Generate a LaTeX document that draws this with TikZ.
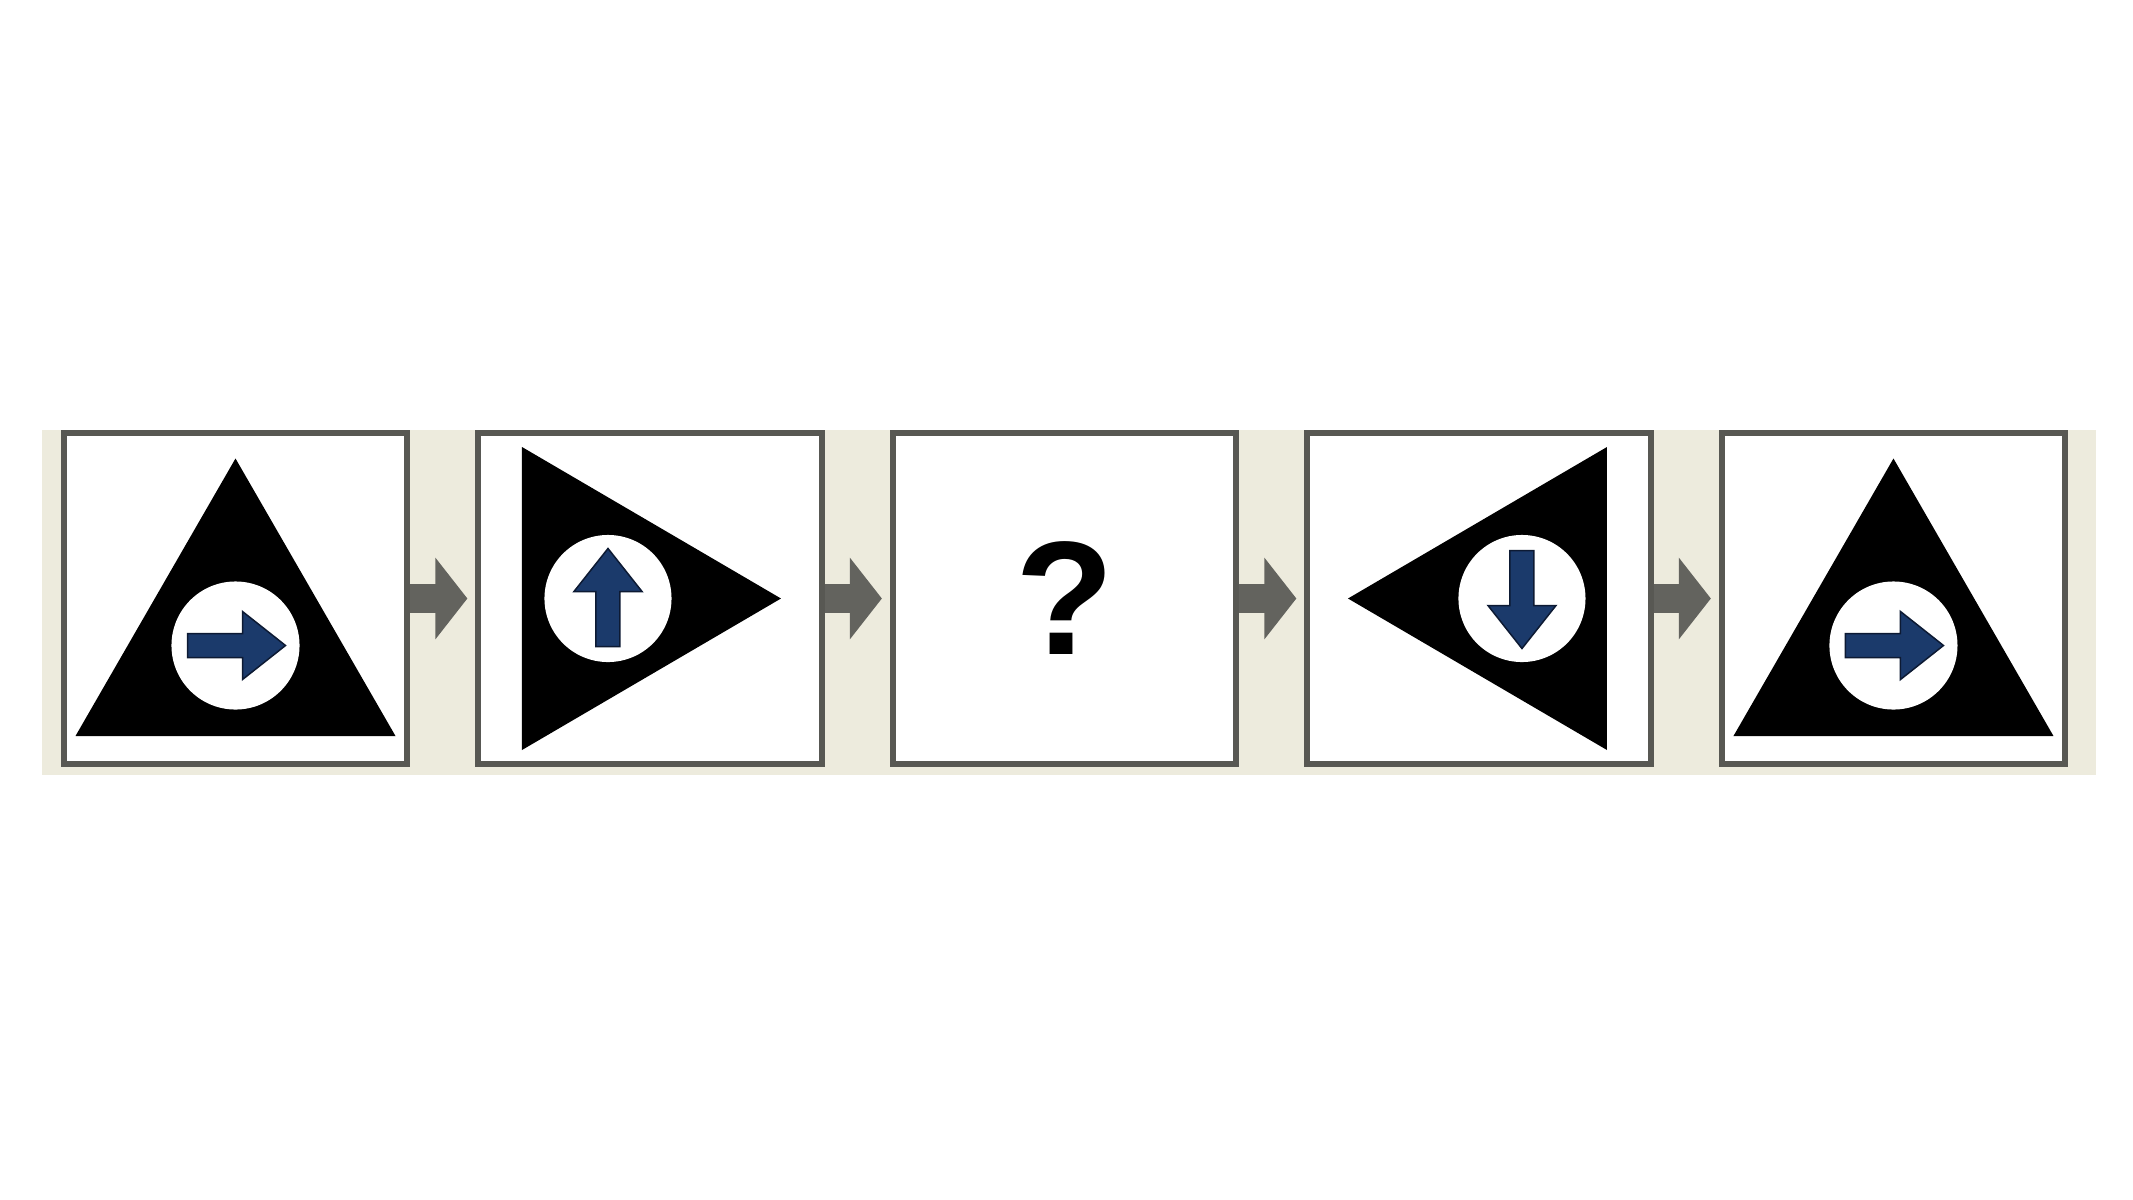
\documentclass[tikz,border=0pt]{standalone}
\usepackage{fontspec}
\newfontfamily\qfont{Liberation Sans}
\usetikzlibrary{positioning,arrows.meta}
\definecolor{strip}{HTML}{EDEBDD}
\definecolor{frame}{HTML}{585853}
\definecolor{linkgrey}{HTML}{63635E}
\definecolor{arrowblue}{HTML}{1B3A6B}
\definecolor{arrowline}{HTML}{0D1A33}

\begin{document}
\begin{tikzpicture}[x=0.01cm, y=-0.01cm, node distance=4.1425cm,
    panel/.style={draw=frame, fill=white, line width=0.06cm, minimum width=3.43cm, minimum height=3.31cm, inner sep=0pt},
    link/.style={linkgrey, line width=0.28cm, -{Triangle[length=0.32cm, width=0.8cm]}, shorten >=0.08cm},
    sign/.style={fill=black},
    hole/.style={fill=white},
    pics/dirarrow/.style={code={
      \filldraw[fill=arrowblue, draw=arrowline, line width=0.015cm]
        (-48,-12) -- (7,-12) -- (7,-34) -- (50,0) -- (7,34) -- (7,12) -- (-48,12) -- cycle;}}]

  \useasboundingbox (0,0) rectangle (2133,1200);
  \fill[strip] (42,430) rectangle (2096,775);

  \node[panel] (p1) at (235.5,598.5) {};
  \node[panel] (p2) [right of = p1] {};
  \node[panel, font=\qfont\bfseries\fontsize{46}{50}\selectfont] (p3) [right of = p2] {?};
  \node[panel] (p4) [right of = p3] {};
  \node[panel] (p5) [right of = p4] {};

  \path[link] (p1) edge (p2);
  \path[link] (p2) edge (p3);
  \path[link] (p3) edge (p4);
  \path[link] (p4) edge (p5);

  % pointing up
  \begin{scope}[shift={(p1.center)}]
    \fill[sign] (0,-140) -- (160,137.5) -- (-160,137.5) -- cycle;
    \fill[hole] (0,47) circle (0.64cm);
    \pic at (0,47) {dirarrow};
  \end{scope}

  % pointing right
  \begin{scope}[shift={(p2.center)}]
    \fill[sign] (-128,-151.5) -- (131,0) -- (-128,151.5) -- cycle;
    \fill[hole] (-42,0) circle (0.635cm);
    \pic[rotate=90] at (-42,0) {dirarrow};
  \end{scope}

  % pointing left
  \begin{scope}[shift={(p4.center)}]
    \fill[sign] (128,-151.5) -- (-131,0) -- (128,151.5) -- cycle;
    \fill[hole] (43,0) circle (0.635cm);
    \pic[rotate=-90] at (43,0) {dirarrow};
  \end{scope}

  \begin{scope}[shift={(p5.center)}]
    \fill[sign] (0,-140) -- (160,137.5) -- (-160,137.5) -- cycle;
    \fill[hole] (0,47) circle (0.64cm);
    \pic at (0,47) {dirarrow};
  \end{scope}
\end{tikzpicture}
\end{document}
